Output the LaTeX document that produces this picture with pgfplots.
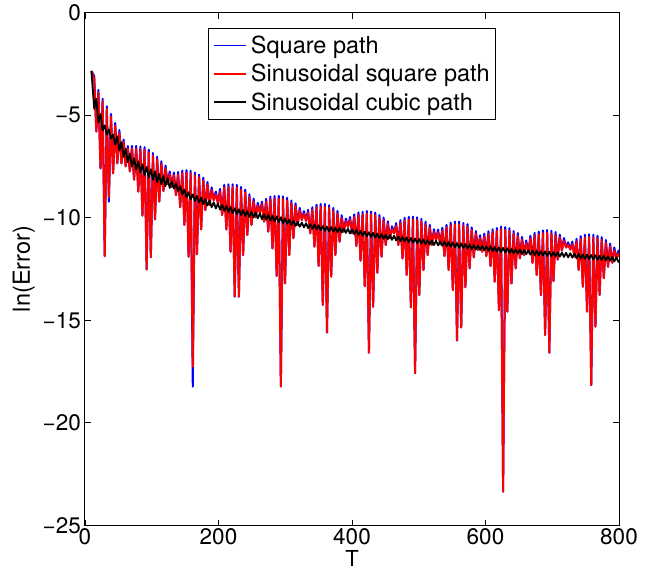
\documentclass[border=0pt]{standalone}
\usepackage{fontspec}
\setmainfont{TeX Gyre Heros}
\usepackage{pgfplots}
\usepackage{pgfplotstable}
\pgfplotsset{compat=1.18}
\pgfplotstableread{
T B R K
9.60 -2.85 -2.85 -2.85
13.82 -3.10 -3.23 -4.70
16.96 -5.80 -5.80 -4.20
20.11 -3.77 -3.90 -5.35
23.25 -7.60 -7.60 -4.95
26.39 -4.20 -4.33 -5.75
29.53 -11.87 -11.87 -5.50
32.67 -4.57 -4.70 -5.95
35.81 -9.22 -9.00 -5.70
38.96 -4.94 -5.07 -6.15
42.10 -7.84 -7.84 -5.95
45.24 -5.38 -5.51 -6.43
48.38 -7.35 -7.35 -6.03
51.52 -5.73 -5.86 -6.72
54.66 -7.35 -7.35 -6.32
57.81 -6.19 -6.32 -7.04
60.95 -7.50 -7.50 -6.64
64.09 -6.51 -6.64 -7.29
67.23 -7.75 -7.75 -6.89
70.37 -6.50 -6.63 -7.51
73.51 -8.15 -8.15 -7.11
76.66 -6.50 -6.63 -7.65
79.80 -8.73 -8.73 -7.25
82.94 -6.53 -6.66 -7.79
86.08 -9.90 -9.90 -7.39
89.22 -6.56 -6.69 -7.93
92.36 -12.52 -12.52 -7.53
95.50 -6.68 -6.81 -8.04
98.65 -11.93 -11.93 -7.64
101.79 -6.85 -6.98 -8.15
104.93 -10.08 -10.08 -7.75
108.07 -7.03 -7.16 -8.27
111.21 -9.22 -9.22 -7.87
114.35 -7.25 -7.38 -8.37
117.50 -8.70 -8.70 -7.97
120.64 -7.46 -7.59 -8.46
123.78 -8.35 -8.35 -8.06
126.92 -7.75 -7.88 -8.55
130.06 -8.50 -8.50 -8.23
133.20 -7.80 -7.93 -8.58
136.35 -8.90 -8.90 -8.34
139.49 -7.77 -7.90 -8.71
142.63 -9.49 -9.49 -8.47
145.77 -7.70 -7.83 -8.87
148.91 -10.35 -10.35 -8.63
152.05 -7.68 -7.81 -9.00
155.20 -11.90 -11.90 -8.76
158.34 -7.71 -7.84 -9.10
161.48 -18.23 -17.26 -8.86
164.62 -7.80 -7.93 -9.18
167.76 -11.78 -11.78 -8.94
170.90 -7.90 -8.03 -9.26
174.05 -10.57 -10.57 -9.02
177.19 -8.05 -8.18 -9.34
180.33 -9.63 -9.63 -9.10
183.47 -8.26 -8.39 -9.41
186.61 -9.38 -9.38 -9.17
189.75 -8.52 -8.65 -9.49
192.90 -9.15 -9.15 -9.25
196.04 -8.73 -8.86 -9.55
199.19 -9.30 -9.30 -9.31
202.32 -8.60 -8.73 -9.61
205.47 -9.87 -9.87 -9.37
208.60 -8.40 -8.53 -9.67
211.75 -10.57 -10.57 -9.43
214.89 -8.37 -8.50 -9.72
218.03 -11.66 -11.66 -9.48
221.17 -8.37 -8.50 -9.78
224.31 -13.85 -13.85 -9.54
227.45 -8.40 -8.53 -9.83
230.59 -13.85 -13.85 -9.59
233.73 -8.50 -8.63 -9.87
236.88 -11.82 -11.82 -9.63
240.02 -8.63 -8.76 -9.92
243.16 -10.84 -10.84 -9.68
246.30 -8.86 -8.99 -9.96
249.44 -10.35 -10.35 -9.72
252.58 -9.07 -9.20 -9.99
255.73 -9.98 -9.98 -9.75
258.87 -9.28 -9.41 -10.03
262.01 -9.75 -9.75 -9.79
265.15 -9.22 -9.35 -10.07
268.30 -10.19 -10.19 -9.83
271.43 -9.08 -9.21 -10.10
274.58 -10.68 -10.68 -9.86
277.72 -8.97 -9.10 -10.14
280.87 -11.49 -11.49 -9.90
284.00 -8.94 -9.07 -10.18
287.15 -12.84 -12.84 -9.94
290.28 -8.94 -9.07 -10.22
293.43 -18.23 -18.23 -9.98
296.57 -8.96 -9.09 -10.27
299.71 -13.20 -13.20 -10.03
302.85 -9.03 -9.16 -10.30
306.00 -11.82 -11.82 -10.10
309.13 -9.16 -9.29 -10.35
312.28 -11.00 -11.00 -10.15
315.42 -9.30 -9.43 -10.40
318.56 -10.36 -10.36 -10.20
321.70 -9.52 -9.65 -10.44
324.85 -10.11 -10.11 -10.24
327.98 -9.68 -9.81 -10.47
331.13 -10.15 -10.15 -10.27
334.27 -9.62 -9.75 -10.51
337.42 -10.76 -10.76 -10.31
340.55 -9.49 -9.62 -10.54
343.70 -11.41 -11.41 -10.34
346.83 -9.37 -9.50 -10.57
349.98 -12.35 -12.35 -10.37
353.12 -9.33 -9.46 -10.61
356.27 -14.25 -14.25 -10.41
359.40 -9.33 -9.46 -10.64
362.55 -15.60 -15.60 -10.44
365.68 -9.39 -9.52 -10.66
368.83 -12.87 -12.87 -10.46
371.97 -9.52 -9.65 -10.68
375.12 -11.82 -11.82 -10.48
378.25 -9.67 -9.80 -10.70
381.40 -11.17 -11.17 -10.50
384.53 -9.88 -10.01 -10.72
387.68 -10.68 -10.68 -10.52
390.82 -10.04 -10.17 -10.74
393.97 -10.44 -10.44 -10.54
397.10 -9.97 -10.10 -10.77
400.25 -10.75 -10.75 -10.57
403.38 -9.84 -9.97 -10.80
406.54 -11.38 -11.38 -10.60
409.67 -9.74 -9.87 -10.84
412.82 -12.09 -12.09 -10.64
415.95 -9.71 -9.84 -10.88
419.11 -13.33 -13.33 -10.68
422.23 -9.67 -9.80 -10.91
425.39 -16.58 -16.58 -10.71
428.52 -9.70 -9.83 -10.94
431.67 -14.34 -14.34 -10.74
434.80 -9.75 -9.88 -10.97
437.96 -12.68 -12.68 -10.77
441.08 -9.87 -10.00 -11.00
444.24 -11.90 -11.90 -10.80
447.36 -9.99 -10.12 -11.03
450.52 -11.33 -11.33 -10.83
453.65 -10.18 -10.31 -11.05
456.81 -11.00 -11.00 -10.85
459.93 -10.42 -10.55 -11.08
463.09 -10.76 -10.76 -10.88
466.21 -10.26 -10.39 -11.11
469.38 -11.33 -11.33 -10.91
472.50 -10.12 -10.25 -11.14
475.66 -11.98 -11.98 -10.94
478.78 -10.00 -10.13 -11.16
481.94 -12.79 -12.79 -10.96
485.06 -9.96 -10.09 -11.19
488.23 -14.37 -14.37 -10.99
491.35 -9.95 -10.08 -11.22
494.51 -17.58 -17.58 -11.02
497.63 -9.98 -10.11 -11.24
500.80 -13.77 -13.77 -11.04
503.91 -10.05 -10.18 -11.26
507.08 -12.55 -12.55 -11.06
510.19 -10.19 -10.32 -11.29
513.36 -11.82 -11.82 -11.09
516.48 -10.35 -10.48 -11.31
519.65 -11.33 -11.33 -11.11
522.76 -10.56 -10.69 -11.33
525.93 -11.09 -11.09 -11.13
529.04 -10.58 -10.71 -11.35
532.21 -11.30 -11.30 -11.15
535.33 -10.49 -10.62 -11.37
538.49 -11.87 -11.87 -11.17
541.61 -10.35 -10.48 -11.39
544.77 -12.55 -12.55 -11.19
547.89 -10.24 -10.37 -11.41
551.06 -13.52 -13.52 -11.21
554.18 -10.19 -10.32 -11.44
557.34 -15.99 -15.99 -11.24
560.46 -10.19 -10.32 -11.46
563.62 -15.35 -15.35 -11.26
566.74 -10.26 -10.39 -11.48
569.91 -13.39 -13.39 -11.28
573.03 -10.31 -10.44 -11.51
576.19 -12.47 -12.47 -11.31
579.31 -10.47 -10.60 -11.53
582.47 -11.93 -11.93 -11.33
585.59 -10.65 -10.78 -11.55
588.76 -11.57 -11.57 -11.35
591.88 -10.86 -10.99 -11.57
594.97 -11.66 -11.66 -11.37
598.16 -10.78 -10.91 -11.59
601.25 -11.87 -11.87 -11.39
604.44 -10.66 -10.79 -11.61
607.54 -12.36 -12.36 -11.41
610.73 -10.56 -10.69 -11.63
613.82 -13.12 -13.12 -11.43
617.01 -10.50 -10.63 -11.65
620.10 -14.50 -14.50 -11.45
623.29 -10.43 -10.56 -11.67
626.39 -23.35 -23.35 -11.47
629.58 -10.46 -10.59 -11.69
632.67 -14.58 -14.58 -11.49
635.86 -10.51 -10.64 -11.72
638.95 -13.20 -13.20 -11.52
642.14 -10.65 -10.78 -11.74
645.24 -12.47 -12.47 -11.54
648.42 -10.75 -10.88 -11.75
651.52 -11.98 -11.98 -11.55
654.71 -10.94 -11.07 -11.77
657.80 -11.82 -11.82 -11.57
660.99 -11.11 -11.24 -11.78
664.19 -11.70 -11.70 -11.58
667.27 -10.88 -11.01 -11.80
670.47 -12.20 -12.20 -11.60
673.56 -10.74 -10.87 -11.82
676.75 -12.79 -12.79 -11.62
679.84 -10.68 -10.81 -11.83
683.03 -13.77 -13.77 -11.63
686.12 -10.62 -10.75 -11.84
689.32 -15.72 -15.72 -11.64
692.41 -10.60 -10.73 -11.86
695.60 -16.58 -16.58 -11.66
698.69 -10.64 -10.77 -11.88
701.88 -13.09 -13.09 -11.68
704.97 -10.70 -10.83 -11.89
708.17 -12.04 -12.04 -11.69
711.26 -10.83 -10.96 -11.90
714.45 -11.60 -11.60 -11.70
717.54 -10.99 -11.12 -11.91
720.73 -11.45 -11.45 -11.71
723.82 -11.20 -11.33 -11.93
727.01 -11.55 -11.55 -11.73
730.11 -11.16 -11.29 -11.95
733.28 -11.90 -11.90 -11.75
736.39 -11.03 -11.16 -11.97
739.56 -12.55 -12.55 -11.77
742.67 -10.90 -11.03 -11.99
745.85 -13.36 -13.36 -11.79
748.96 -10.83 -10.96 -12.00
752.13 -14.58 -14.58 -11.80
755.24 -10.81 -10.94 -12.02
758.41 -18.16 -18.16 -11.82
761.52 -10.83 -10.96 -12.03
764.70 -15.31 -15.31 -11.83
767.80 -10.88 -11.01 -12.05
770.98 -13.77 -13.77 -11.85
774.09 -10.95 -11.08 -12.06
777.26 -12.95 -12.95 -11.86
780.37 -11.09 -11.22 -12.08
783.55 -12.39 -12.39 -11.88
786.65 -11.26 -11.39 -12.10
789.83 -12.20 -12.20 -11.90
792.94 -11.45 -11.58 -12.13
796.11 -12.00 -12.00 -11.93
799.22 -11.60 -11.73 -12.16
800.00 -11.85 -11.90 -12.07
}\data
\newcommand{\legline}[1]{\textcolor{#1}{\rule[0.3em]{32pt}{1.8pt}}\hspace{4.6pt}}
\begin{document}
\begin{tikzpicture}
\begin{axis}[
  name=ax,
  scale only axis, width=534pt, height=513pt,
  xmin=0, xmax=800, ymin=-25, ymax=0,
  xtick={0,200,400,600,800}, xticklabels={0,200,400,600,800},
  ytick={-25,-20,-15,-10,-5,0}, yticklabels={−25,−20,−15,−10,−5,0},
  minor tick num=0,
  tick pos=both, tick align=inside, major tick length=6pt,
  tick style={black, line width=0.9pt},
  axis line style={black, line width=1pt},
  ticklabel style={font=\fontsize{22.5}{27}\selectfont, inner sep=0pt},
  xticklabel style={anchor=north, yshift=-3pt},
  yticklabel style={anchor=east, xshift=-4pt},
  xlabel={T}, ylabel={ln(Error)},
  label style={font=\fontsize{23.5}{28}\selectfont, inner sep=0pt},
  xlabel style={at={(axis description cs:0.5,-0.0478)}, anchor=north, font=\fontsize{22}{26}\selectfont},
  ylabel style={at={(axis description cs:-0.0936,0.5)}, anchor=south},
  legend style={at={(axis description cs:0.5,0.969)}, anchor=north,
    font=\fontsize{23.5}{28}\selectfont,
    nodes={inner sep=0pt}, column sep=0pt, row sep=9.4pt,
    inner xsep=5.7pt, inner ysep=7.2pt},
  legend cell align=left,
  legend image code/.code={},
]
\addplot[color=blue, line width=2pt, line join=round] table[x=T, y=B] {\data};
\addlegendentry{\legline{blue}Square path}
\addplot[color=red, line width=2pt, line join=round] table[x=T, y=R] {\data};
\addlegendentry{\legline{red}Sinusoidal square path}
\addplot[color=black, line width=1.8pt, line join=round] table[x=T, y=K] {\data};
\addlegendentry{\legline{black}Sinusoidal cubic path}
\end{axis}
\pgfresetboundingbox
\path (ax.south west) ++(-85pt,-45.5pt) rectangle ++(667pt,571pt);
\end{tikzpicture}
\end{document}
